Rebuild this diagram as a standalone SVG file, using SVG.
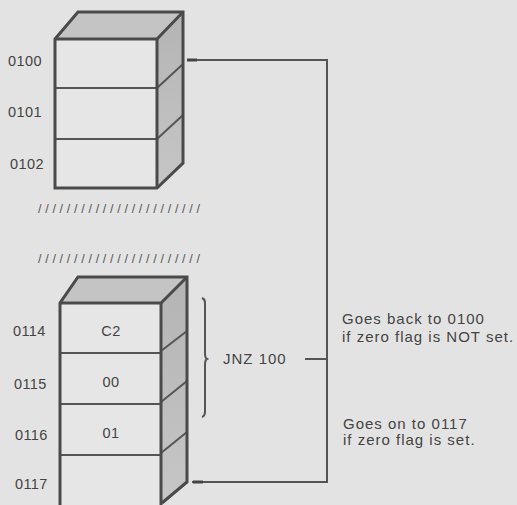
<svg xmlns="http://www.w3.org/2000/svg" width="517" height="505" viewBox="0 0 517 505">
<defs>
<style>
.edge{fill:none;stroke:#4a4a4a;stroke-width:3;stroke-linejoin:miter}
.thin{fill:none;stroke:#555;stroke-width:2}
.front{fill:#e6e6e6}
.topf{fill:#c4c4c4}
.side{fill:url(#sideg)}
.lbl{font-family:"Liberation Sans",Arial,sans-serif;font-size:14.5px;letter-spacing:0.4px;fill:#444}
.note{font-family:"Liberation Sans",Arial,sans-serif;font-size:15px;letter-spacing:1px;fill:#444}
.hash{font-family:"Liberation Sans",Arial,sans-serif;font-size:12.5px;fill:#555}
.conn{fill:none;stroke:#555;stroke-width:2}
</style>
<linearGradient id="sideg" x1="0" y1="0" x2="0" y2="1">
<stop offset="0" stop-color="#b4b4b4"/>
<stop offset="1" stop-color="#c6c6c6"/>
</linearGradient>
</defs>
<rect width="517" height="505" fill="#e3e3e3"/>

<g id="memory-top">
<polygon class="topf" points="55,39 78,12 183,12 157,39"/>
<polygon class="side" points="157,39 183,12 183,163 157,188"/>
<rect class="front" x="55" y="39" width="102" height="149"/>
<line class="thin" x1="55" y1="88" x2="157" y2="88"/>
<line class="thin" x1="55" y1="139" x2="157" y2="139"/>
<line class="thin" x1="157" y1="88" x2="183" y2="64"/>
<line class="thin" x1="157" y1="139" x2="183" y2="115"/>
<polygon class="edge" points="55,39 78,12 183,12 183,163 157,188 55,188"/>
<polyline class="edge" points="55,39 157,39 183,12"/>
<line class="edge" x1="157" y1="39" x2="157" y2="188"/>
<text class="lbl" x="8" y="66">0100</text>
<text class="lbl" x="8" y="117">0101</text>
<text class="lbl" x="10" y="169">0102</text>
</g>

<g id="break">
<text class="hash" x="38" y="213" textLength="162" lengthAdjust="spacing">///////////////////////</text>
<text class="hash" x="38" y="263" textLength="162" lengthAdjust="spacing">///////////////////////</text>
</g>

<g id="memory-bottom">
<polygon class="topf" points="60,303 78,277 187,277 161,303"/>
<polygon class="side" points="161,303 187,277 187,482 162,503"/>
<rect class="front" x="60" y="303" width="101" height="210"/>
<line class="thin" x1="60" y1="353" x2="161" y2="353"/>
<line class="thin" x1="60" y1="404" x2="161" y2="404"/>
<line class="thin" x1="60" y1="455" x2="161" y2="455"/>
<line class="thin" x1="161" y1="351" x2="187" y2="331"/>
<line class="thin" x1="161" y1="402" x2="187" y2="381"/>
<line class="thin" x1="161" y1="453" x2="187" y2="432"/>
<polyline class="edge" points="60,510 60,303 78,277 187,277 187,482 162,503"/>
<polyline class="edge" points="60,303 161,303 187,277"/>
<line class="edge" x1="161" y1="303" x2="161" y2="510"/>
<text class="lbl" x="13" y="336">0114</text>
<text class="lbl" x="14" y="389">0115</text>
<text class="lbl" x="15" y="440">0116</text>
<text class="lbl" x="15" y="489">0117</text>
<text class="lbl" x="111" y="336" text-anchor="middle">C2</text>
<text class="lbl" x="111" y="387" text-anchor="middle">00</text>
<text class="lbl" x="111" y="438" text-anchor="middle">01</text>
</g>

<g id="jnz">
<path class="thin" d="M202,298 Q205,299 205,303 L205,353 Q205,358 207,359 Q205,360 205,365 L205,412 Q205,416 202,417" stroke-width="1.8"/>
<text class="note" x="223" y="364" letter-spacing="0.6">JNZ 100</text>
</g>

<g id="notes">
<text class="note" x="342" y="324">Goes back to 0100</text>
<text class="note" x="342" y="342">if zero flag is NOT set.</text>
<text class="note" x="343" y="429">Goes on to 0117</text>
<text class="note" x="343" y="445">if zero flag is set.</text>
</g>

<g id="connectors">
<polyline class="conn" points="187,60 327,60 327,482 192,482"/>
<line class="conn" x1="305" y1="359" x2="327" y2="359"/>
<line x1="187" y1="60" x2="197" y2="60" stroke="#444" stroke-width="3"/>
<line x1="193" y1="482" x2="203" y2="482" stroke="#444" stroke-width="3"/>
</g>
</svg>
